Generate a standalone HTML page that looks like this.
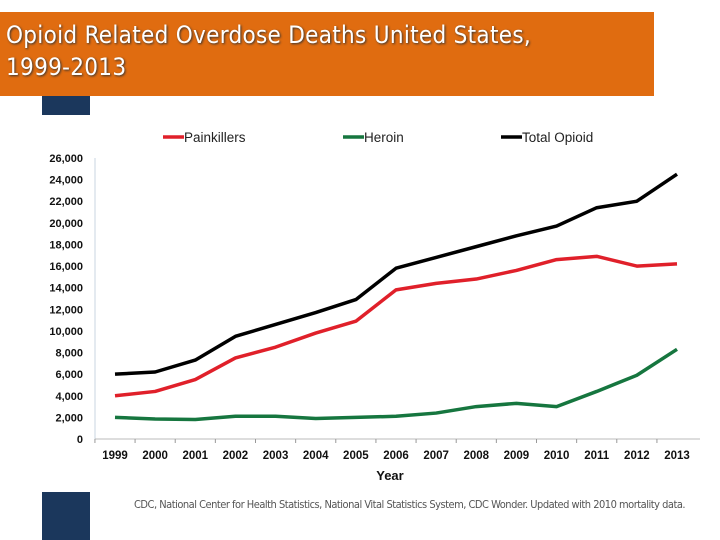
<!DOCTYPE html>
<html><head><meta charset="utf-8"><style>
body{margin:0;width:720px;height:540px;background:#fff;overflow:hidden;position:relative;font-family:"Liberation Sans",Arial,sans-serif}
#title{position:absolute;left:0;top:12px;width:654px;height:84px;background:#e06c10;color:#fff;font-size:24px;line-height:32px;padding:7px 0 0 6px;box-sizing:border-box;text-shadow:1px 1px 2px #333;font-family:"Liberation Sans Narrow","DejaVu Sans Condensed",sans-serif;letter-spacing:0.3px}
.blue{position:absolute;left:42px;width:48px;background:#1b375c}
#src{position:absolute;left:134px;top:498px;font-size:11px;color:#555;letter-spacing:-0.5px;white-space:nowrap;font-family:"Liberation Sans Narrow","DejaVu Sans Condensed",sans-serif}
</style></head><body>
<div id="title">Opioid Related Overdose Deaths United States,<br>1999-2013</div>
<div class="blue" style="top:96px;height:19px"></div>
<div class="blue" style="top:492px;height:48px"></div>
<div id="src">CDC, National Center for Health Statistics, National Vital Statistics System, CDC Wonder. Updated with 2010 mortality data.</div>
<svg id="chart" width="720" height="540" style="position:absolute;left:0;top:0"></svg>
<script>
const years=[1999,2000,2001,2002,2003,2004,2005,2006,2007,2008,2009,2010,2011,2012,2013];
const painkillers=[4000,4400,5500,7500,8500,9800,10900,13800,14400,14800,15600,16600,16900,16000,16200];
const heroin=[2000,1850,1800,2100,2100,1900,2000,2100,2400,3000,3300,3000,4400,5900,8300];
const totalOpioid=[6000,6200,7300,9500,10600,11700,12900,15800,16800,17800,18800,19700,21400,22000,24500];
const yTicks=[0,2000,4000,6000,8000,10000,12000,14000,16000,18000,20000,22000,24000,26000];
const svg=document.getElementById('chart');
const NS='http://www.w3.org/2000/svg';
const x0=115,dx=(677-115)/14,yb=439,yt=158,ymax=26000;
const X=i=>x0+i*dx;
const Y=v=>yb-(v/ymax)*(yb-yt);
function mk(t,a){const e=document.createElementNS(NS,t);for(const k in a)e.setAttribute(k,a[k]);svg.appendChild(e);return e;}
let e=mk('line',{x1:95,y1:yt,x2:95,y2:yb,stroke:'#c8d6e0'});


e=mk('line',{x1:95,y1:yb,x2:700,y2:yb,stroke:'#bbb'});


yTicks.forEach(v=>{
 const t=mk('text',{x:83,y:Y(v)+4,'text-anchor':'end','font-size':11,'font-weight':'bold',fill:'#111'});
 t.textContent=v.toLocaleString('en-US');
 
 
});
years.forEach((yr,i)=>{
 const t=mk('text',{x:X(i),y:459,'text-anchor':'middle','font-size':11.5,'font-weight':'bold',fill:'#111'});
 t.textContent=yr;
 
 
 const tk=mk('line',{x1:X(i)-dx/2,y1:yb,x2:X(i)-dx/2,y2:yb+4,stroke:'#999'});
 
 
});
const xt=mk('text',{x:390,y:480,'text-anchor':'middle','font-size':13,'font-weight':'bold',fill:'#111'});
xt.textContent='Year';


const series=[['painkillers',painkillers,'#e0202a','Painkillers',163],['heroin',heroin,'#16763f','Heroin',343],['total-opioid',totalOpioid,'#000','Total Opioid',501]];
series.forEach(([n,d,c,l,lx])=>{
 const p=mk('polyline',{points:d.map((v,i)=>X(i)+','+Y(v)).join(' '),fill:'none',stroke:c,'stroke-width':3.5,'stroke-linejoin':'round'});
 
 
 const ll=mk('line',{x1:lx,y1:137,x2:lx+21,y2:137,stroke:c,'stroke-width':3.5});
 
 
 const lt=mk('text',{x:lx+21,y:142,'font-size':13.5,fill:'#222'});
 lt.textContent=l;
 
 
});
</script>
</body></html>
